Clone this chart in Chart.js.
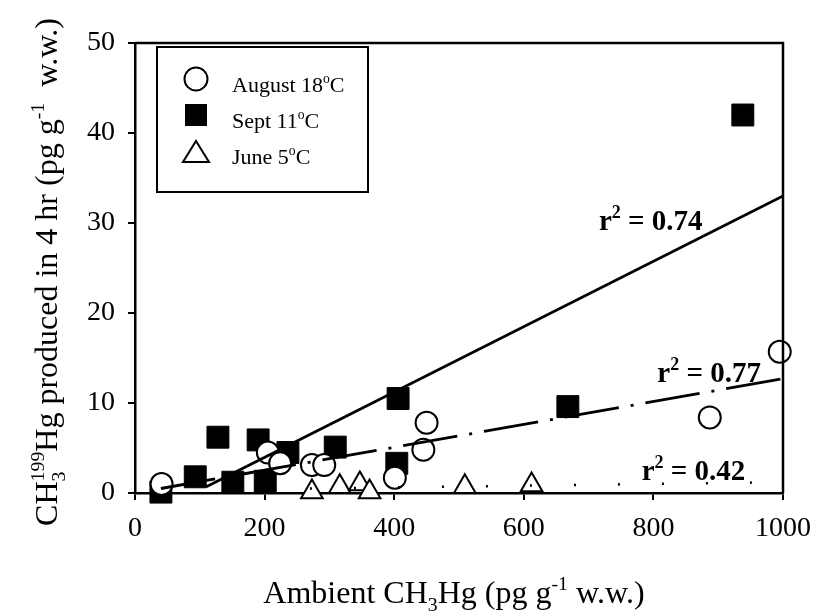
<!DOCTYPE html>
<html>
<head>
<meta charset="utf-8">
<script src="https://cdn.jsdelivr.net/npm/chart.js@4.4.1/dist/chart.umd.min.js"></script>
<style>
  body { margin: 0; background: #fff; }
  #wrap { width: 817px; height: 615px; }
</style>
</head>
<body>
<div id="wrap"><canvas id="chart" width="817" height="615"></canvas></div>
<script>
// values
const xTicks = [0, 200, 400, 600, 800, 1000];
const yTicks = [0, 10, 20, 30, 40, 50];

const augX = [41, 205, 224, 273, 292, 401, 445, 450, 887, 995];
const augY = [1.0, 4.5, 3.3, 3.1, 3.1, 1.7, 4.8, 7.8, 8.4, 15.7];

const septX = [40, 93, 128, 151, 190, 201, 236, 309, 404, 406, 668, 938];
const septY = [0.1, 1.8, 6.2, 1.2, 5.9, 1.3, 4.5, 5.1, 3.3, 10.5, 9.6, 42.0];

const juneX = [273, 316, 347, 362, 509, 612];
const juneY = [0.1, 0.7, 1.0, 0.1, 0.7, 0.9];

// regression lines (end points)
const septFitX = [110, 1000];
const septFitY = [0.7, 33.0];
const augFitX = [40, 1000];
const augFitY = [0.5, 12.7];
const juneFitX = [270, 1000];
const juneFitY = [0.5, 1.2];

const fitLabels = ['0.74', '0.77', '0.42'];

const toPts = (xs, ys) => xs.map((x, i) => ({ x: x, y: ys[i] }));
const serif = '"Liberation Serif", "Times New Roman", serif';
const font = (size, bold) => (bold ? 'bold ' : '') + size + 'px ' + serif;

function richWidth(ctx, parts, size, bold) {
  let w = 0;
  parts.forEach(p => {
    ctx.font = font(size, bold);
    if (p.t) w += ctx.measureText(p.t).width;
    ctx.font = font(size * 0.62, bold);
    const a = p.sub ? ctx.measureText(p.sub).width : 0;
    const b = p.sup ? ctx.measureText(p.sup).width : 0;
    w += Math.max(a, b);
  });
  return w;
}

function drawRich(ctx, parts, x, y, size, bold, align) {
  let cx = align === 'center' ? x - richWidth(ctx, parts, size, bold) / 2 : x;
  ctx.textAlign = 'left';
  ctx.textBaseline = 'alphabetic';
  ctx.fillStyle = '#000';
  parts.forEach(p => {
    if (p.t) {
      ctx.font = font(size, bold);
      ctx.fillText(p.t, cx, y);
      cx += ctx.measureText(p.t).width;
    }
    ctx.font = font(size * 0.62, bold);
    let w = 0;
    if (p.sub) {
      ctx.fillText(p.sub, cx, y + size * 0.25);
      w = ctx.measureText(p.sub).width;
    }
    if (p.sup) {
      ctx.fillText(p.sup, cx, y - size * 0.42);
      w = Math.max(w, ctx.measureText(p.sup).width);
    }
    cx += w;
  });
}

const xTitle = [{ t: 'Ambient CH', sub: '3' }, { t: 'Hg (pg g', sup: '-1' }, { t: ' w.w.)' }];
const yTitle = [{ t: 'CH', sub: '3', sup: '199' }, { t: 'Hg produced in 4 hr (pg g', sup: '-1' }, { t: '  w.w.)' }];

const extras = {
  id: 'extras',
  afterDraw(chart) {
    const ctx = chart.ctx;
    const a = chart.chartArea;
    const xs = chart.scales.x, ys = chart.scales.y;
    ctx.save();

    // frame top + right
    ctx.strokeStyle = '#000';
    ctx.lineWidth = 2.5;
    ctx.beginPath();
    ctx.moveTo(a.left, a.top);
    ctx.lineTo(a.right, a.top);
    ctx.lineTo(a.right, a.bottom);
    ctx.stroke();

    // axis titles
    drawRich(ctx, xTitle, 454, 603, 32, false, 'center');
    ctx.save();
    ctx.translate(57, 272);
    ctx.rotate(-Math.PI / 2);
    drawRich(ctx, yTitle, 0, 0, 32, false, 'center');
    ctx.restore();

    // r^2 labels
    const spots = [[716, 29.2], [806, 12.3], [782, 1.45]];
    fitLabels.forEach((v, i) => {
      const px = xs.getPixelForValue(spots[i][0]);
      const py = ys.getPixelForValue(spots[i][1]);
      drawRich(ctx, [{ t: 'r', sup: '2' }, { t: ' = ' + v }], px, py, 29, true, 'left');
    });

    // legend box
    ctx.lineWidth = 2;
    ctx.strokeStyle = '#000';
    ctx.fillStyle = '#fff';
    ctx.fillRect(157, 47, 211, 145);
    ctx.strokeRect(157, 47, 211, 145);
    const mx = 196;
    // circle
    ctx.beginPath();
    ctx.arc(mx, 79, 11.5, 0, Math.PI * 2);
    ctx.fillStyle = '#fff';
    ctx.fill();
    ctx.stroke();
    // square
    ctx.fillStyle = '#000';
    ctx.fillRect(mx - 11, 104, 22, 22);
    // triangle
    ctx.beginPath();
    ctx.moveTo(mx, 141);
    ctx.lineTo(mx + 13, 162);
    ctx.lineTo(mx - 13, 162);
    ctx.closePath();
    ctx.fillStyle = '#fff';
    ctx.fill();
    ctx.stroke();
    drawRich(ctx, [{ t: 'August 18', sup: 'o' }, { t: 'C' }], 232, 92, 22, false, 'left');
    drawRich(ctx, [{ t: 'Sept 11', sup: 'o' }, { t: 'C' }], 232, 128, 22, false, 'left');
    drawRich(ctx, [{ t: 'June 5', sup: 'o' }, { t: 'C' }], 232, 164, 22, false, 'left');

    ctx.restore();
  }
};

const tickFont = { family: serif, size: 28 };

new Chart(document.getElementById('chart'), {
  type: 'scatter',
  data: {
    datasets: [
      {
        label: 'Sept fit', data: toPts(septFitX, septFitY), showLine: true,
        borderColor: '#000', borderWidth: 2.8, pointRadius: 0
      },
      {
        label: 'August fit', data: toPts(augFitX, augFitY), showLine: true,
        borderColor: '#000', borderWidth: 2.8, pointRadius: 0, borderDash: [55, 12, 3, 12]
      },
      {
        label: 'June fit', data: toPts(juneFitX, juneFitY), showLine: true,
        borderColor: '#000', borderWidth: 2.5, pointRadius: 0, borderDash: [2, 42]
      },
      {
        label: 'August 18°C', data: toPts(augX, augY), pointStyle: 'circle',
        pointRadius: 11, backgroundColor: '#fff', borderColor: '#000', borderWidth: 2, clip: false
      },
      {
        label: 'Sept 11°C', data: toPts(septX, septY), pointStyle: 'rect',
        pointRadius: 15.5, backgroundColor: '#000', borderColor: '#000', borderWidth: 1, clip: false
      },
      {
        label: 'June 5°C', data: toPts(juneX, juneY), pointStyle: 'triangle',
        pointRadius: 12.5, backgroundColor: '#fff', borderColor: '#000', borderWidth: 2, clip: false
      }
    ]
  },
  options: {
    responsive: false,
    animation: false,
    layout: { padding: { left: 0, right: 34, top: 43, bottom: 0 } },
    plugins: { legend: { display: false }, tooltip: { enabled: false } },
    scales: {
      x: {
        type: 'linear', min: 0, max: 1000,
        afterFit: s => { s.height = 122; s.paddingRight = 0; s.paddingLeft = 0; },
        afterBuildTicks: s => { s.ticks = xTicks.map(v => ({ value: v })); },
        ticks: { font: tickFont, color: '#000', padding: 12, maxRotation: 0, callback: v => String(v) },
        grid: { drawOnChartArea: false, drawTicks: true, tickLength: 7, color: '#000', lineWidth: 2 },
        border: { color: '#000', width: 2.5 }
      },
      y: {
        type: 'linear', min: 0, max: 50,
        afterFit: s => { s.width = 135; },
        afterBuildTicks: s => { s.ticks = yTicks.map(v => ({ value: v })); },
        ticks: { font: tickFont, color: '#000', padding: 13, callback: v => String(v) },
        grid: { drawOnChartArea: false, drawTicks: true, tickLength: 7, color: '#000', lineWidth: 2 },
        border: { color: '#000', width: 2.5 }
      }
    }
  },
  plugins: [extras]
});
</script>
</body>
</html>
